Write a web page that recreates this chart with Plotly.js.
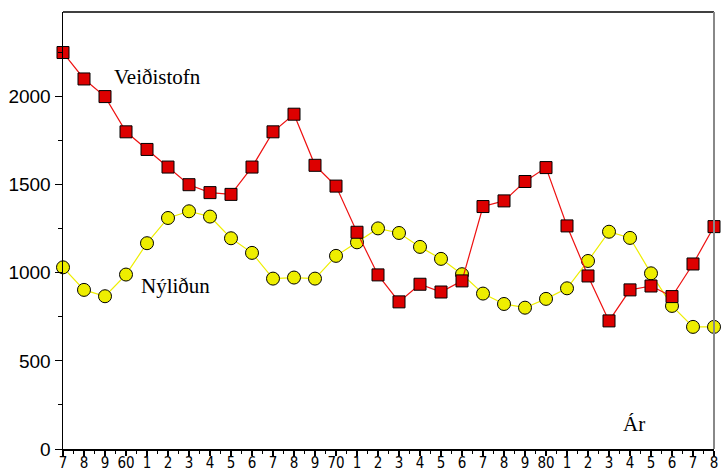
<!DOCTYPE html>
<html>
<head>
<meta charset="utf-8">
<script src="https://cdn.plot.ly/plotly-3.0.1.min.js"></script>
<style>html,body{margin:0;padding:0;background:#fff;}#chart{width:723px;height:474px;}</style>
</head>
<body>
<div id="chart"></div>
<script>
const years = [57,58,59,60,61,62,63,64,65,66,67,68,69,70,71,72,73,74,75,76,77,78,79,80,81,82,83,84,85,86,87,88];
const veidistofn = [2250,2100,2000,1800,1700,1600,1500,1455,1445,1600,1800,1900,1610,1492,1230,988,835,935,891,954,1376,1408,1518,1597,1266,982,727,903,925,865,1050,1262];
const nylidun = [1031,903,867,990,1168,1311,1349,1319,1196,1113,967,973,967,1096,1173,1252,1226,1147,1079,992,882,823,802,852,912,1067,1233,1198,997,812,693,693];
const xTickLabels = ["7","8","9","60","1","2","3","4","5","6","7","8","9","70","1","2","3","4","5","6","7","8","9","80","1","2","3","4","5","6","7","8"];
const yTickVals = [0,500,1000,1500,2000];
const seriesNames = ["Veiðistofn","Nýliðun"];
const axisLabel = "Ár";

const traces = [
  {
    x: years, y: nylidun, name: seriesNames[1], type: 'scatter', mode: 'lines+markers',
    line: {color: '#eeee00', width: 1.2},
    marker: {symbol: 'circle', size: 13, color: '#eeee00', line: {color: '#000', width: 1}},
    cliponaxis: false
  },
  {
    x: years, y: veidistofn, name: seriesNames[0], type: 'scatter', mode: 'lines+markers',
    line: {color: '#ee1111', width: 1.2},
    marker: {symbol: 'square', size: 12, color: '#dd0000', line: {color: '#000', width: 1}},
    cliponaxis: false
  }
];

const layout = {
  width: 723, height: 474,
  margin: {l: 63, r: 9, t: 12, b: 25, pad: 0},
  paper_bgcolor: '#fff', plot_bgcolor: '#fff',
  showlegend: false,
  xaxis: {
    range: [57, 88], showgrid: false, zeroline: false,
    showline: true, linecolor: '#000', linewidth: 1.5,
    tickmode: 'array', tickvals: years, ticktext: xTickLabels,
    ticks: 'outside', ticklen: 5, tickcolor: '#000', tickwidth: 1.5,
    minor: {dtick: 0.5, tick0: 57, ticks: 'outside', ticklen: 3, tickcolor: '#000', tickwidth: 1},
    tickfont: {family: 'DejaVu Sans Condensed, Liberation Sans Narrow, Liberation Sans, Arial', size: 15, color: '#000'},
    ticklabelstandoff: -6,
    fixedrange: true
  },
  yaxis: {
    range: [0, 2480], showgrid: false, zeroline: false,
    showline: true, linecolor: '#000', linewidth: 1.5,
    tickmode: 'array', tickvals: yTickVals,
    ticks: 'outside', ticklen: 7, tickcolor: '#000', tickwidth: 1,
    minor: {dtick: 250, tick0: 0, ticks: 'outside', ticklen: 4, tickcolor: '#000', tickwidth: 1},
    tickfont: {family: 'Liberation Sans, Arial', size: 19, color: '#000'},
    fixedrange: true
  },
  shapes: [
    {type: 'line', xref: 'paper', yref: 'paper', x0: 0, x1: 1, y0: 1, y1: 1, line: {color: '#000', width: 1.5}},
    {type: 'line', xref: 'paper', yref: 'paper', x0: 1, x1: 1, y0: 0, y1: 1, line: {color: '#888', width: 2}}
  ],
  annotations: [
    {x: 61.5, y: 2112, xref: 'x', yref: 'y', text: seriesNames[0], showarrow: false,
     font: {family: 'Liberation Serif, Times New Roman, serif', size: 21, color: '#000'}},
    {x: 62.35, y: 925, xref: 'x', yref: 'y', text: seriesNames[1], showarrow: false,
     font: {family: 'Liberation Serif, Times New Roman, serif', size: 21, color: '#000'}},
    {x: 84.17, y: 142, xref: 'x', yref: 'y', text: axisLabel, showarrow: false,
     font: {family: 'Liberation Serif, Times New Roman, serif', size: 21, color: '#000'}}
  ]
};

Plotly.newPlot('chart', traces, layout, {displayModeBar: false, staticPlot: true});
</script>
</body>
</html>
